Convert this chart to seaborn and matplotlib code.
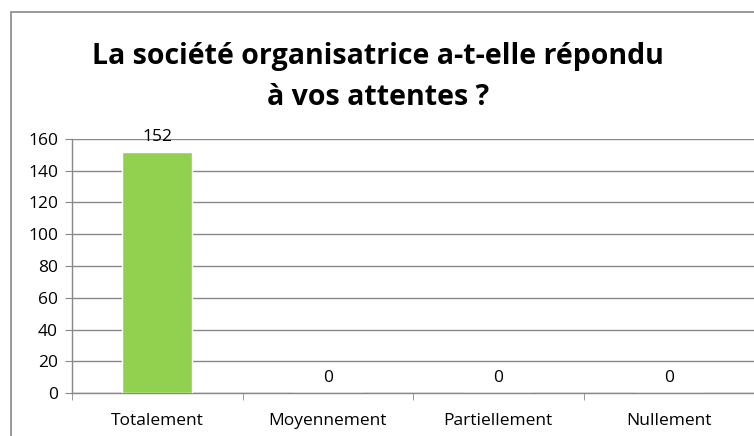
import matplotlib
matplotlib.use("Agg")
import matplotlib.pyplot as plt
import seaborn as sns
import pandas as pd
from matplotlib.patches import Rectangle

# chart data
categories = ["Totalement", "Moyennement", "Partiellement", "Nullement"]
counts = [152, 0, 0, 0]
title = "La société organisatrice a-t-elle répondu\nà vos attentes ?"

sns.set_style("white")
plt.rcParams['font.family'] = ['Open Sans', 'DejaVu Sans']
plt.rcParams['text.color'] = 'black'
plt.rcParams['xtick.color'] = 'black'
plt.rcParams['ytick.color'] = 'black'

df = pd.DataFrame({"categorie": categories, "nombre": counts})

fig = plt.figure(figsize=(7.54, 4.36), dpi=100)
ax = fig.add_axes([72 / 754, 1 - 393 / 436, 682 / 754, 254 / 436])

sns.barplot(data=df, x="categorie", y="nombre", color="#92D050",
            width=0.41, saturation=1, ax=ax, zorder=3)

ax.set_ylim(0, 160)
ax.set_xlim(-0.5, 3.5)
ax.set_yticks(range(0, 161, 20))
ax.yaxis.grid(True, color="#888888", linewidth=1, zorder=0)
ax.set_axisbelow(True)
ax.set_xlabel("")
ax.set_ylabel("")

# value labels
for i, v in enumerate(counts):
    ax.annotate(str(v), (i, v), xytext=(0, 5), textcoords="offset points",
                ha="center", va="bottom", fontsize=12.5, color="black")

# spines / ticks like the spreadsheet original
for s in ["top", "right"]:
    ax.spines[s].set_visible(False)
for s in ["left", "bottom"]:
    ax.spines[s].set_color("#888888")
    ax.spines[s].set_linewidth(1)
ax.tick_params(axis="y", left=True, length=5, color="#888888",
               labelcolor="black", labelsize=12.5, pad=5)
ax.tick_params(axis="x", bottom=False, labelcolor="black", labelsize=12.5, pad=11)
ax.set_xticks([0.5 + i for i in range(-1, 4)], minor=True)
ax.tick_params(axis="x", which="minor", bottom=True, length=5, color="#888888")

fig.text(378 / 754, 1 - 77 / 436, title, ha="center", va="center",
         fontsize=20.5, fontweight="bold", linespacing=1.55, color="black")

# outer chart border
fig.patches.append(Rectangle((11 / 754, -0.1), 1.2, 1 - 12 / 436 + 0.1,
                             transform=fig.transFigure, fill=False,
                             edgecolor="#888888", linewidth=1.2))

fig.savefig("out.png", dpi=100)
